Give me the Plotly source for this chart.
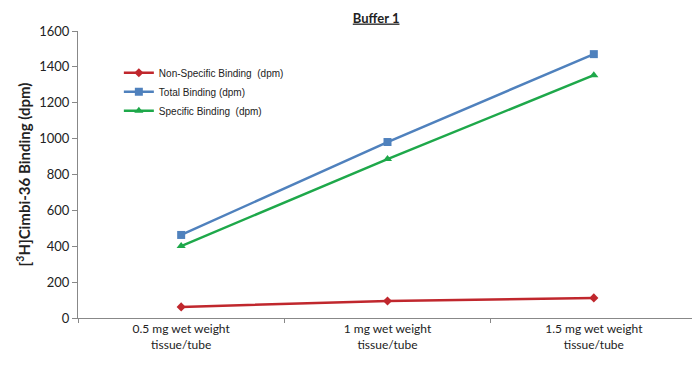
import plotly.graph_objects as go

categories = ["0.5 mg wet weight<br>tissue/tube", "1 mg wet weight<br>tissue/tube", "1.5 mg wet weight<br>tissue/tube"]
nonspecific = [62, 95, 112]
total = [463, 981, 1471]
specific = [401, 886, 1354]
y_ticks = [0, 200, 400, 600, 800, 1000, 1200, 1400, 1600]

fig = go.Figure()
fig.add_trace(go.Scatter(x=categories, y=nonspecific, name="Non-Specific Binding  (dpm)",
                         mode="lines+markers", line=dict(color="#C0272D", width=2.5),
                         marker=dict(symbol="diamond", size=7, color="#C0272D")))
fig.add_trace(go.Scatter(x=categories, y=total, name="Total Binding (dpm)",
                         mode="lines+markers", line=dict(color="#4F81BD", width=2.5),
                         marker=dict(symbol="square", size=8, color="#4F81BD")))
fig.add_trace(go.Scatter(x=categories, y=specific, name="Specific Binding  (dpm)",
                         mode="lines+markers", line=dict(color="#1EA84A", width=2.5),
                         marker=dict(symbol="triangle-up", size=8, color="#1EA84A")))

fig.update_layout(
    width=692, height=357,
    margin=dict(l=70, r=3, t=23, b=47, autoexpand=False),
    paper_bgcolor="white", plot_bgcolor="white",
    font=dict(family="Lato, Liberation Sans, sans-serif", size=12, color="#222"),
    title=dict(text="<b><u>Buffer 1</u></b>", x=0.532, xanchor="center", y=0.972, yanchor="middle",
               font=dict(size=13, color="#222")),
    legend=dict(x=0.066, y=0.905, xanchor="left", yanchor="top", bgcolor="rgba(0,0,0,0)",
                font=dict(family="Liberation Sans, Arial, sans-serif", size=10, color="#222"),
                itemwidth=30, tracegroupgap=0),
    showlegend=True,
)
fig.update_xaxes(range=[-0.5, 2.5], showline=True, linecolor="#888", linewidth=1, ticks="outside",
                 tickson="boundaries", ticklen=4, tickcolor="#888", showgrid=False,
                 tickfont=dict(size=12), automargin=False)
fig.update_yaxes(range=[0, 1600], tickvals=y_ticks, showline=True, linecolor="#888", linewidth=1,
                 ticks="outside", ticklen=5, tickcolor="#888", showgrid=False, zeroline=False,
                 tickfont=dict(size=13), automargin=False,
                 title=dict(text="<b>[<sup>3</sup>H]Cimbi-36 Binding (dpm)</b>", font=dict(size=15), standoff=4))

fig.write_html("out.html")
